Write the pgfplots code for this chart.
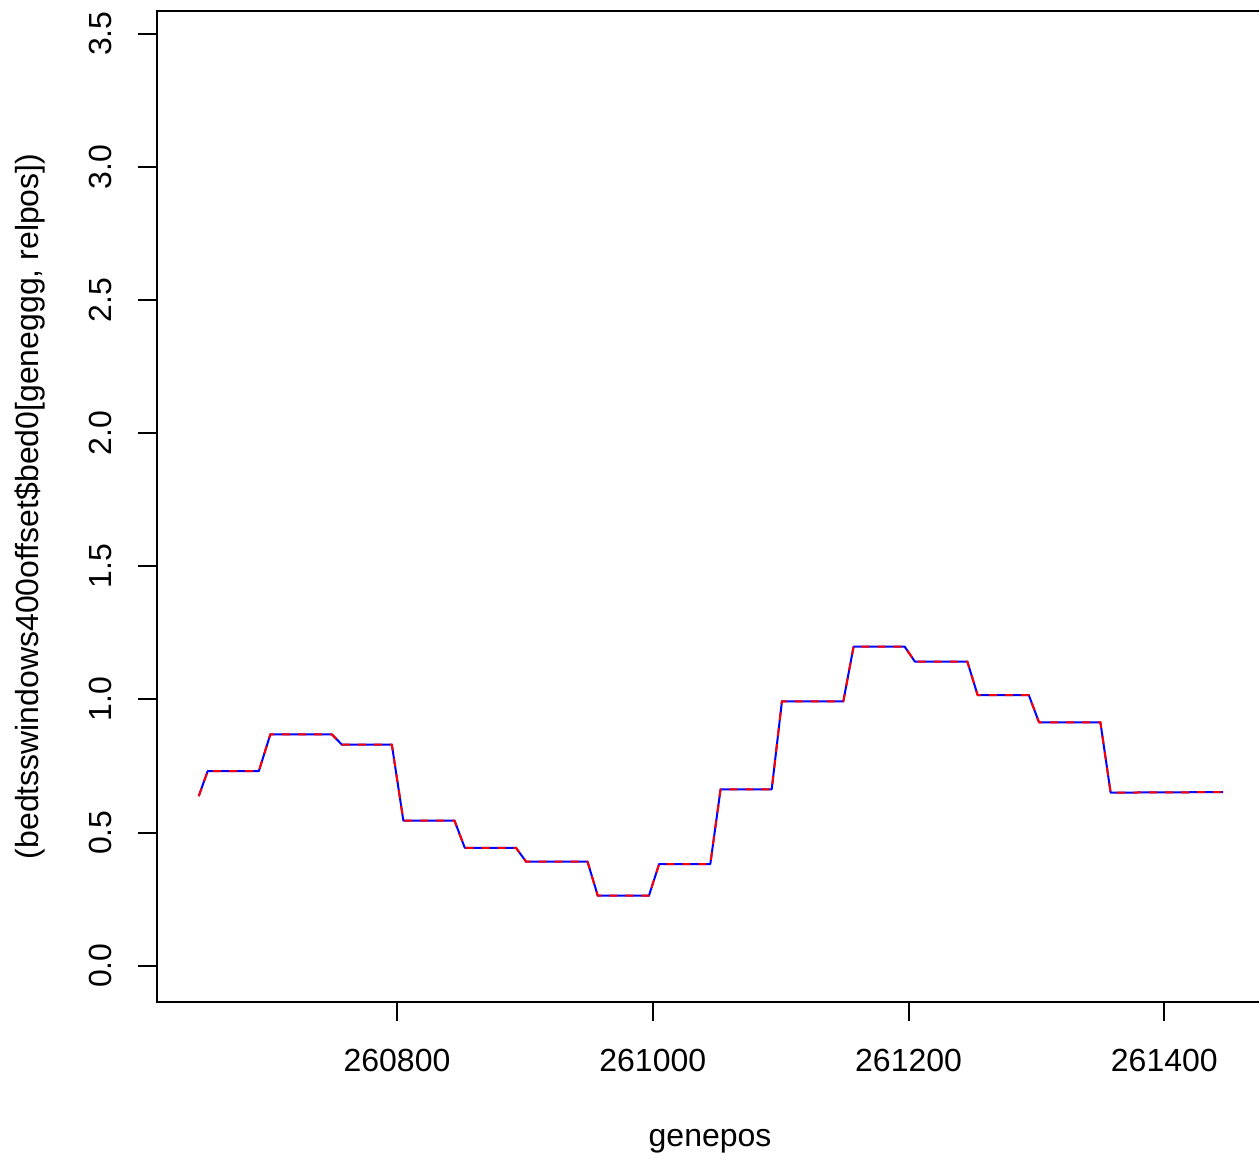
\documentclass[border=0pt]{standalone}
\usepackage{pgfplots}
\usepackage{pgfplotstable}
\pgfplotsset{compat=1.18}
\usepackage{fontspec}
\setmainfont{Liberation Sans}
\pgfplotstableread{
x y
260645 0.637
260652 0.731
260692 0.731
260701 0.869
260749 0.869
260757 0.830
260796 0.830
260805 0.5445
260845 0.5445
260853 0.443
260893 0.443
260901 0.3905
260949 0.3905
260957 0.263
260997 0.263
261005 0.382
261045 0.382
261053 0.662
261093 0.662
261101 0.993
261149 0.993
261157 1.198
261197 1.198
261205 1.1416
261246 1.1416
261254 1.0165
261294 1.0165
261302 0.914
261350 0.914
261358 0.650
261400 0.651
261446 0.652
}\data
\begin{document}
\begin{tikzpicture}
\begin{axis}[
  name=ax,
  at={(0,0)}, anchor=south west,
  scale only axis,
  width=414.56bp, height=371.51bp,
  xmin=260612.6, xmax=261477,
  ymin=-0.1352, ymax=3.585,
  axis line style={line width=0.75bp, black},
  tick style={line width=0.75bp, black},
  tick align=outside,
  major tick length=7.3bp,
  xtick pos=bottom, ytick pos=left,
  xtick={260800,261000,261200,261400},
  xticklabels={260800,261000,261200,261400},
  ytick={0,0.5,1,1.5,2,2.5,3,3.5},
  yticklabels={0.0,0.5,1.0,1.5,2.0,2.5,3.0,3.5},
  scaled ticks=false,
  font=\fontsize{12bp}{14bp}\selectfont,
  xticklabel style={anchor=base, yshift=-18.7bp},
  yticklabel style={xshift=-9.8bp, rotate=90, anchor=base},
  xlabel={genepos},
  xlabel style={at={(axis description cs:0.5,-0.1464)}, anchor=base},
  ylabel={(bedtsswindows400offset\$bed0[geneggg, relpos])},
  ylabel style={at={(axis description cs:-0.1079,0.5)}, anchor=base},
]
\addplot[color={rgb,255:red,0;green,0;blue,255}, line width=0.75bp, line join=round] table[x=x,y=y] {\data};
\addplot[color={rgb,255:red,255;green,0;blue,0}, line width=0.75bp, dash pattern=on 3bp off 3bp] table[x=x,y=y] {\data};
\end{axis}
\pgfresetboundingbox
\useasboundingbox ([xshift=-58.99bp, yshift=-58.24bp]ax.south west) rectangle ([xshift=-1.43bp, yshift=4.125bp]ax.north east);
\end{tikzpicture}
\end{document}
